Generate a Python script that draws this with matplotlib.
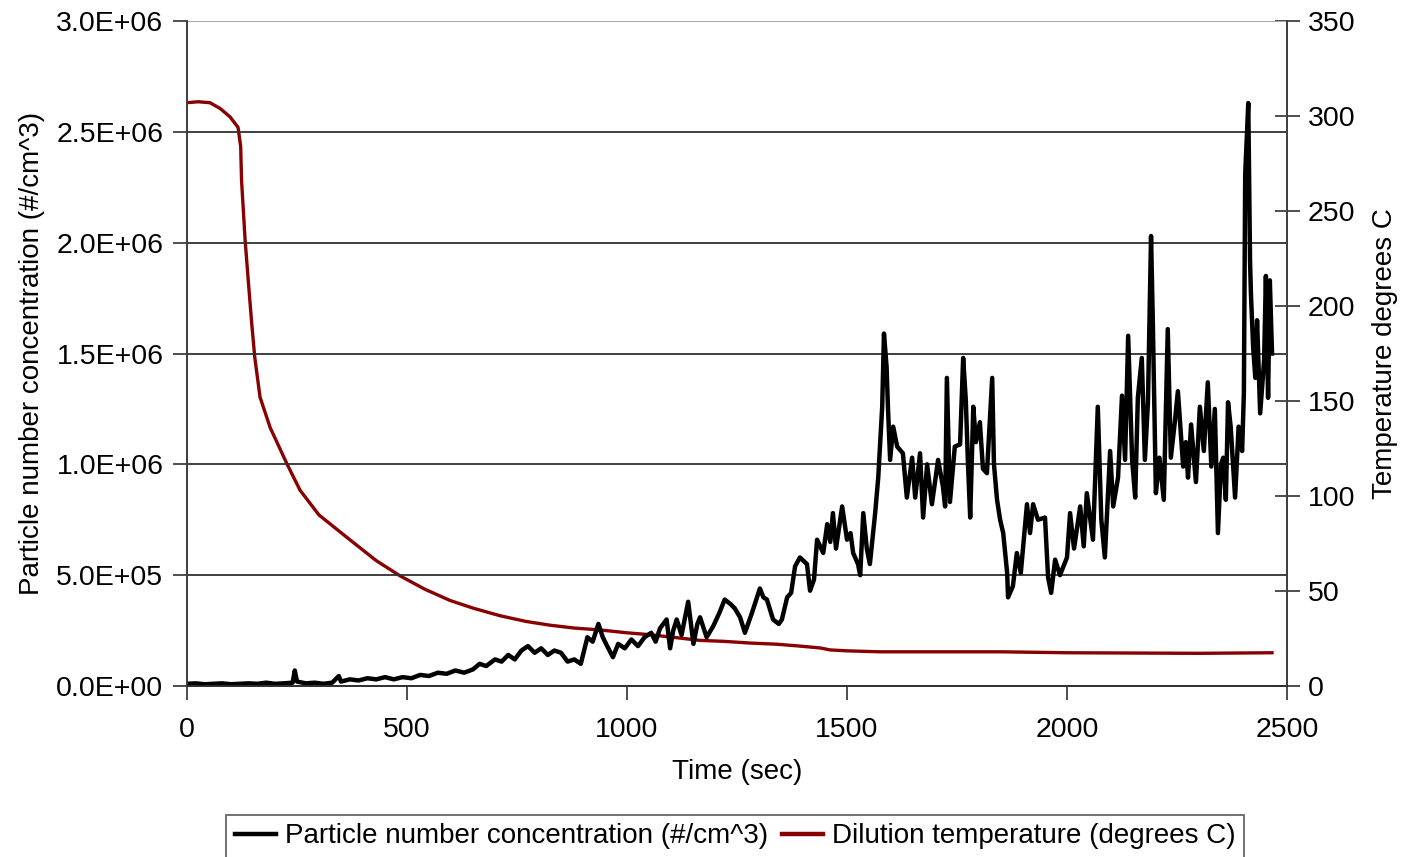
import numpy as np
import matplotlib.pyplot as plt
from matplotlib.ticker import FuncFormatter

plt.rcParams['font.family'] = ['Liberation Sans', 'DejaVu Sans']

# particle number concentration (time in sec, value in 1e6 #/cm^3)
pn_time = [0, 20, 40, 60, 80, 100, 120, 140, 160, 180, 200, 220, 240, 245, 250, 270, 290, 310, 330, 345,
           350, 370, 390, 410, 430, 450, 470, 490, 510, 530, 550, 570, 590, 610, 630, 650, 665, 680, 700, 715,
           730, 745, 760, 775, 790, 805, 820, 835, 850, 865, 880, 895, 910, 922, 935, 945, 955, 968, 980, 995,
           1010, 1025, 1040, 1055, 1065, 1075, 1090, 1098, 1105, 1113, 1124, 1139, 1151, 1160, 1166, 1181, 1196, 1210, 1222, 1235,
           1245, 1257, 1268, 1284, 1302, 1310, 1318, 1332, 1345, 1352, 1364, 1373, 1382, 1393, 1409, 1416, 1425, 1432, 1446, 1455,
           1462, 1468, 1475, 1489, 1500, 1508, 1514, 1525, 1530, 1537, 1545, 1552, 1564, 1571, 1580, 1584, 1590, 1593, 1598, 1605,
           1614, 1627, 1636, 1648, 1655, 1666, 1673, 1682, 1693, 1707, 1718, 1723, 1727, 1734, 1745, 1757, 1764, 1770, 1775, 1780,
           1787, 1793, 1802, 1809, 1818, 1830, 1834, 1841, 1848, 1855, 1864, 1866, 1877, 1886, 1895, 1909, 1916, 1923, 1934, 1950,
           1957, 1964, 1973, 1984, 2000, 2007, 2016, 2030, 2038, 2045, 2059, 2070, 2078, 2086, 2098, 2105, 2116, 2125, 2132, 2139,
           2148, 2155, 2161, 2170, 2177, 2184, 2191, 2195, 2202, 2210, 2220, 2229, 2236, 2245, 2252, 2264, 2270, 2275, 2282, 2293,
           2302, 2311, 2320, 2328, 2336, 2343, 2350, 2355, 2361, 2366, 2372, 2382, 2390, 2398, 2402, 2405, 2412, 2416, 2418, 2423,
           2428, 2432, 2439, 2448, 2452, 2457, 2461, 2466]
pn_value = [0.01, 0.012, 0.008, 0.01, 0.012, 0.008, 0.01, 0.012, 0.01, 0.015, 0.01, 0.012, 0.015, 0.07, 0.02, 0.012, 0.015, 0.01, 0.015, 0.045,
            0.02, 0.03, 0.025, 0.035, 0.03, 0.04, 0.03, 0.04, 0.035, 0.05, 0.045, 0.06, 0.055, 0.07, 0.06, 0.075, 0.10, 0.09, 0.12, 0.11,
            0.14, 0.12, 0.16, 0.18, 0.15, 0.17, 0.14, 0.16, 0.15, 0.11, 0.12, 0.10, 0.22, 0.20, 0.28, 0.22, 0.18, 0.13, 0.19, 0.17,
            0.21, 0.18, 0.22, 0.24, 0.20, 0.26, 0.30, 0.17, 0.25, 0.30, 0.23, 0.38, 0.19, 0.28, 0.31, 0.22, 0.27, 0.33, 0.39, 0.37,
            0.35, 0.31, 0.24, 0.33, 0.44, 0.40, 0.39, 0.30, 0.28, 0.30, 0.40, 0.42, 0.54, 0.58, 0.55, 0.43, 0.48, 0.66, 0.60, 0.73,
            0.65, 0.78, 0.62, 0.81, 0.66, 0.69, 0.60, 0.55, 0.50, 0.78, 0.62, 0.55, 0.78, 0.94, 1.26, 1.59, 1.44, 1.26, 1.02, 1.17,
            1.08, 1.05, 0.85, 1.03, 0.85, 1.05, 0.76, 1.00, 0.82, 1.02, 0.90, 0.81, 1.39, 0.83, 1.08, 1.09, 1.48, 1.29, 1.00, 0.76,
            1.26, 1.10, 1.19, 0.98, 0.96, 1.39, 1.00, 0.84, 0.75, 0.69, 0.51, 0.40, 0.45, 0.60, 0.51, 0.82, 0.69, 0.82, 0.75, 0.76,
            0.49, 0.42, 0.57, 0.50, 0.58, 0.78, 0.62, 0.81, 0.63, 0.87, 0.66, 1.26, 0.75, 0.58, 1.06, 0.81, 0.94, 1.31, 1.02, 1.58,
            1.02, 0.85, 1.30, 1.48, 1.02, 1.28, 2.03, 1.65, 0.87, 1.03, 0.84, 1.61, 1.03, 1.19, 1.33, 0.99, 1.10, 0.94, 1.18, 0.92,
            1.26, 1.06, 1.37, 0.99, 1.25, 0.69, 1.00, 1.03, 0.84, 1.28, 1.17, 0.85, 1.17, 1.06, 1.32, 2.31, 2.63, 1.92, 1.77, 1.53,
            1.39, 1.65, 1.23, 1.47, 1.85, 1.30, 1.83, 1.50]

# dilution temperature (degrees C)
temp_time = [0, 25, 52, 75, 98, 116, 122, 124, 132, 139, 147, 154, 166, 189, 227, 257, 300, 370, 430, 484,
             540, 598, 650, 711, 770, 825, 880, 939, 1000, 1052, 1110, 1166, 1220, 1280, 1340, 1393, 1440, 1461, 1500, 1575,
             1700, 1848, 2000, 2100, 2300, 2466]
temp_value = [307, 307.5, 307, 304, 299.5, 294, 284, 266, 235, 214, 191, 173, 152, 136, 117, 103, 90, 77, 66, 58,
              51, 45, 41, 37, 34, 32, 30.5, 29.5, 28, 27, 25.5, 24, 23.5, 22.6, 22, 21, 20, 19, 18.5, 18,
              18, 18, 17.5, 17.4, 17.2, 17.5]

left_ticks = [0, 0.5e6, 1.0e6, 1.5e6, 2.0e6, 2.5e6, 3.0e6]

fig = plt.figure(figsize=(14.04, 8.57), dpi=100)
ax = fig.add_axes([187/1404, 1 - 686/857, 1100/1404, 665/857])
ax2 = ax.twinx()

# black on top of red, like the original
ax.set_zorder(ax2.get_zorder() + 1)
ax.patch.set_visible(False)

ax.plot(pn_time, np.array(pn_value) * 1e6, color='black', lw=3.2, label='Particle number concentration (#/cm^3)')
ax2.plot(temp_time, temp_value, color='#880000', lw=2.4, label='Dilution temperature (degrees C)')

ax.set_xlim(0, 2500)
ax.set_ylim(0, 3.0e6)
ax2.set_ylim(0, 350)
ax.set_yticks(left_ticks)
ax.yaxis.set_major_formatter(FuncFormatter(lambda v, p: '%.1E' % v))
ax.set_xticks([0, 500, 1000, 1500, 2000, 2500])
ax2.set_yticks(range(0, 351, 50))

for y in left_ticks[1:-1]:
    ax.axhline(y, color='#303030', lw=1.3, zorder=0)
# top edge is a light grey line
ax.axhline(3.0e6, color='#a8a8a8', lw=1.5, zorder=0)

for a in (ax, ax2):
    a.spines['top'].set_visible(False)
    for s in a.spines.values():
        s.set_color('#404040')
        s.set_linewidth(1.3)
ax.spines['bottom'].set_color('#303030')

ax.tick_params(axis='both', labelsize=20.5, length=10, width=1.3, color='#404040', pad=7)
ax.tick_params(axis='x', pad=12)
ax2.tick_params(axis='y', labelsize=20.5, direction='inout', length=18, width=1.3, color='#404040', pad=6)

ax.set_xlabel('Time (sec)', fontsize=20, labelpad=12)
ax.set_ylabel('Particle number concentration (#/cm^3)', fontsize=20, labelpad=8)
ax2.set_ylabel('Temperature degrees C', fontsize=20, labelpad=12)

h1, l1 = ax.get_legend_handles_labels()
h2, l2 = ax2.get_legend_handles_labels()
leg = fig.legend(h1 + h2, l1 + l2, loc='upper center', bbox_to_anchor=(735/1404, 1 - 815/857),
                 ncol=2, fontsize=20, frameon=True, fancybox=False, edgecolor='#404040',
                 handlelength=1.5, handletextpad=0.3, columnspacing=0.5, borderpad=0.3, borderaxespad=0)
leg.get_frame().set_linewidth(1.3)
for line in leg.get_lines():
    line.set_linewidth(3.2)

fig.savefig('out.png', dpi=100)
